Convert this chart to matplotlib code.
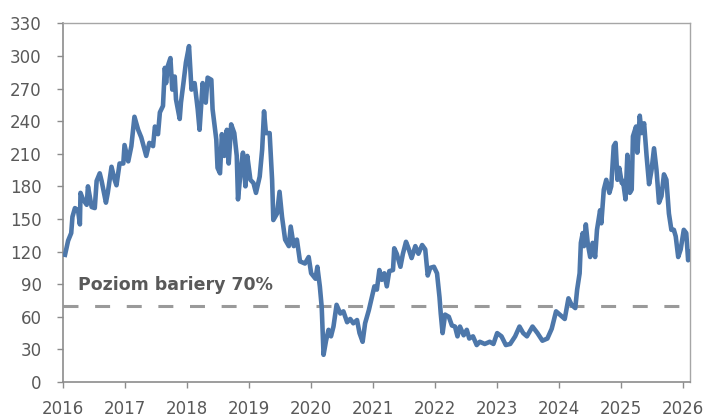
"""Barrier level chart: price path vs 70% barrier."""

import matplotlib

matplotlib.use("Agg")
import matplotlib.pyplot as plt

# decimal years and values
years = [
    2016.04, 2016.09, 2016.14, 2016.16, 2016.20, 2016.25, 2016.28, 2016.29, 2016.33, 2016.39,
    2016.41, 2016.47, 2016.52, 2016.55, 2016.60, 2016.63, 2016.70, 2016.73, 2016.79, 2016.84,
    2016.87, 2016.92, 2016.98, 2017.00, 2017.06, 2017.11, 2017.16, 2017.22, 2017.27, 2017.35,
    2017.40, 2017.46, 2017.49, 2017.54, 2017.57, 2017.62, 2017.65, 2017.67, 2017.70, 2017.74,
    2017.77, 2017.81, 2017.83, 2017.89, 2017.91, 2017.95, 2017.99, 2018.04, 2018.08, 2018.13,
    2018.18, 2018.21, 2018.26, 2018.31, 2018.34, 2018.40, 2018.42, 2018.48, 2018.50, 2018.54,
    2018.57, 2018.61, 2018.65, 2018.68, 2018.72, 2018.77, 2018.81, 2018.83, 2018.88, 2018.91,
    2018.95, 2018.98, 2019.03, 2019.08, 2019.12, 2019.18, 2019.22, 2019.25, 2019.28, 2019.34,
    2019.38, 2019.40, 2019.46, 2019.50, 2019.54, 2019.59, 2019.65, 2019.68, 2019.73, 2019.78,
    2019.83, 2019.91, 2019.97, 2020.01, 2020.08, 2020.11, 2020.15, 2020.18, 2020.21, 2020.25,
    2020.29, 2020.33, 2020.37, 2020.42, 2020.48, 2020.53, 2020.59, 2020.64, 2020.69, 2020.75,
    2020.79, 2020.84, 2020.88, 2020.94, 2020.99, 2021.03, 2021.07, 2021.11, 2021.15, 2021.19,
    2021.23, 2021.27, 2021.33, 2021.35, 2021.39, 2021.45, 2021.49, 2021.54, 2021.58, 2021.63,
    2021.69, 2021.74, 2021.80, 2021.85, 2021.89, 2021.93, 2021.99, 2022.04, 2022.08, 2022.10,
    2022.13, 2022.17, 2022.23, 2022.28, 2022.33, 2022.37, 2022.41, 2022.47, 2022.52, 2022.56,
    2022.62, 2022.68, 2022.73, 2022.81, 2022.89, 2022.95, 2023.01, 2023.08, 2023.15, 2023.22,
    2023.30, 2023.37, 2023.43, 2023.49, 2023.58, 2023.66, 2023.74, 2023.82, 2023.89, 2023.96,
    2024.02, 2024.10, 2024.16, 2024.21, 2024.27, 2024.30, 2024.34, 2024.36, 2024.39, 2024.41,
    2024.44, 2024.47, 2024.51, 2024.55, 2024.59, 2024.62, 2024.67, 2024.69, 2024.73, 2024.77,
    2024.82, 2024.85, 2024.89, 2024.92, 2024.95, 2024.98, 2025.02, 2025.04, 2025.08, 2025.11,
    2025.15, 2025.18, 2025.20, 2025.25, 2025.27, 2025.31, 2025.34, 2025.38, 2025.42, 2025.46,
    2025.50, 2025.54, 2025.58, 2025.62, 2025.66, 2025.70, 2025.74, 2025.78, 2025.82, 2025.86,
    2025.89, 2025.93, 2025.97, 2026.02, 2026.06, 2026.09, 2026.12,
]
values = [
    117, 130, 137, 152, 160, 158, 145, 174, 168, 163,
    180, 161, 160, 185, 192, 185, 165, 174, 198, 186,
    181, 201, 201, 218, 203, 217, 244, 232, 225, 208,
    220, 217, 235, 228, 248, 254, 289, 275, 291, 298,
    269, 281, 260, 242, 257, 275, 294, 309, 269, 275,
    251, 232, 275, 257, 280, 278, 251, 223, 197, 192,
    228, 208, 232, 201, 237, 229, 208, 168, 198, 211,
    180, 208, 186, 183, 174, 189, 214, 249, 229, 229,
    186, 149, 155, 175, 152, 131, 125, 143, 125, 131,
    111, 109, 115, 100, 95, 106, 88, 69, 25, 38,
    48, 42, 51, 71, 63, 65, 55, 58, 54, 57,
    45, 37, 54, 66, 78, 88, 85, 103, 94, 100,
    88, 102, 103, 123, 118, 106, 118, 129, 123, 114,
    125, 118, 126, 122, 98, 105, 106, 100, 78, 63,
    45, 62, 60, 52, 51, 42, 51, 43, 48, 40,
    42, 34, 37, 35, 37, 35, 45, 42, 34, 35,
    42, 51, 45, 42, 51, 45, 38, 40, 49, 65,
    62, 58, 77, 71, 68, 85, 100, 128, 137, 125,
    145, 128, 115, 128, 115, 140, 158, 146, 177, 186,
    174, 180, 217, 220, 186, 197, 183, 185, 168, 209,
    174, 177, 226, 235, 211, 245, 229, 238, 208, 182,
    195, 215, 195, 165, 171, 191, 186, 155, 140, 140,
    134, 115, 122, 140, 137, 112, 120,
]

barrier = 70
barrier_label = "Poziom bariery 70%"
x_ticks = list(range(2016, 2027))
y_ticks = list(range(0, 331, 30))

plt.rcParams["font.family"] = ["DejaVu Sans"]

TEXT = "#595959"
LINE = "#4d77aa"

fig = plt.figure(figsize=(7.05, 4.19), dpi=100)
ax = fig.add_axes([0.0887, 0.0883, 0.8900, 0.8561])

ax.plot(years, values, color=LINE, linewidth=3.3, solid_joinstyle="round", zorder=3)
ax.axhline(barrier, color="#9a9a9a", linewidth=2.2, linestyle=(0, (4.9, 5.45)), zorder=2)
ax.text(2016.25, 84.5, barrier_label, fontsize=12.5, fontweight="bold", color=TEXT,
        ha="left", va="baseline")

ax.set_xlim(2016, 2026.12)
ax.set_ylim(0, 330)
ax.set_xticks(x_ticks)
ax.set_xticklabels([str(y) for y in x_ticks])
ax.set_yticks(y_ticks)

for side in ("left", "bottom"):
    ax.spines[side].set_color("#8c8c8c")
    ax.spines[side].set_linewidth(1.2)
for side in ("top", "right"):
    ax.spines[side].set_color("#a6a6a6")
    ax.spines[side].set_linewidth(1.0)

ax.tick_params(axis="both", colors="#8c8c8c", labelcolor=TEXT, labelsize=12,
               length=4, width=1.0, direction="out")
ax.tick_params(axis="y", pad=11)
ax.tick_params(axis="x", pad=9)

fig.savefig("out.png", dpi=100)
